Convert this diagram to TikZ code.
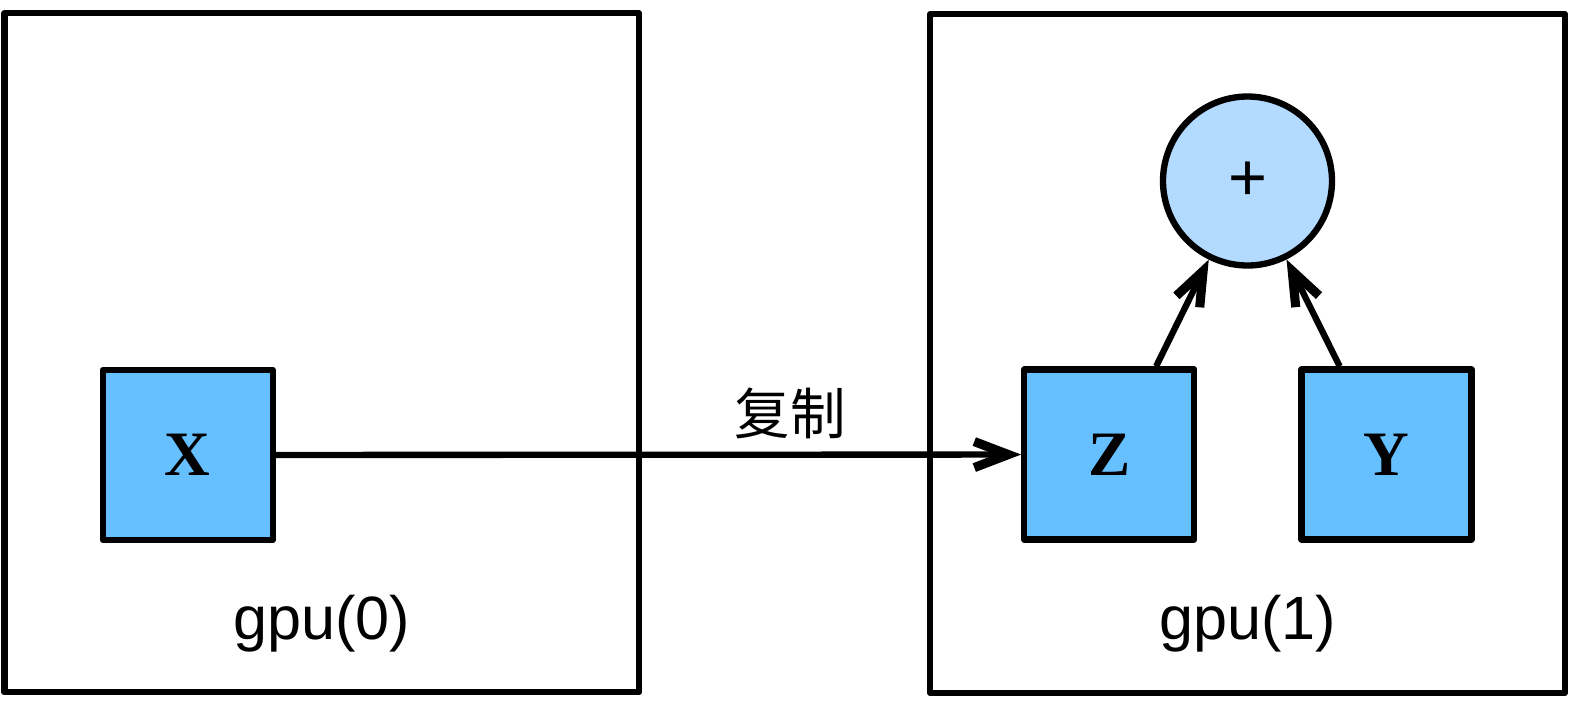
\documentclass[tikz,border=0pt]{standalone}
\usepackage{fontspec}
\setmainfont{Liberation Sans}
\newfontfamily\tensorfont{Liberation Serif}
\newfontfamily\cjkfont{Noto Sans CJK SC}
\usepackage{xcolor}
\usetikzlibrary{arrows.meta, positioning}
\definecolor{tensorblue}{RGB}{102,191,255}
\definecolor{opblue}{RGB}{179,218,255}

\begin{document}
\begin{tikzpicture}[
    line width=1.8pt, line join=round,
    device/.style={rectangle, draw, minimum width=6.345cm, minimum height=6.79cm, inner sep=0pt},
    tensor/.style={rectangle, draw, fill=tensorblue, minimum size=1.7cm, inner sep=0pt, font=\tensorfont\bfseries\fontsize{18}{20}\selectfont},
    op/.style={circle, draw, fill=opblue, minimum size=1.69cm, inner sep=0pt, font=\fontsize{19}{20}\selectfont},
    devlabel/.style={anchor=base, font=\fontsize{17.4}{20}\selectfont},
    arrow/.style={-{Straight Barb[length=3.4mm, width=2.6mm, line width=2.6pt]}}
]
\useasboundingbox (0,0) rectangle (15.81,7.09);

% Devices
\node[device] (gpu0) at (3.2175,3.5625) {};
\node[device] (gpu1) at (12.475,3.555) {};
\node[devlabel] (gpu0label) at (3.22,0.70) {gpu(0)};
\node[devlabel] (gpu1label) at (12.475,0.70) {gpu(1)};

% Tensors
\node[tensor] (x) at (1.8775,2.54) {X};
\node[tensor] (z) at (11.0925,2.545) {Z};
\node[tensor, right=1.01cm of z] (y) {Y};

% Sum
\node[op] (plus) at (12.475,5.28) {+};

% Arrows
\draw[arrow] (x) -- (z) node[pos=0.69, yshift=0.41cm, font=\cjkfont\fontsize{15.8}{18}\selectfont] (copylabel) {复制};
\draw[arrow] (z.62) -- (plus);
\draw[arrow] (y.118) -- (plus);

\end{tikzpicture}
\end{document}
